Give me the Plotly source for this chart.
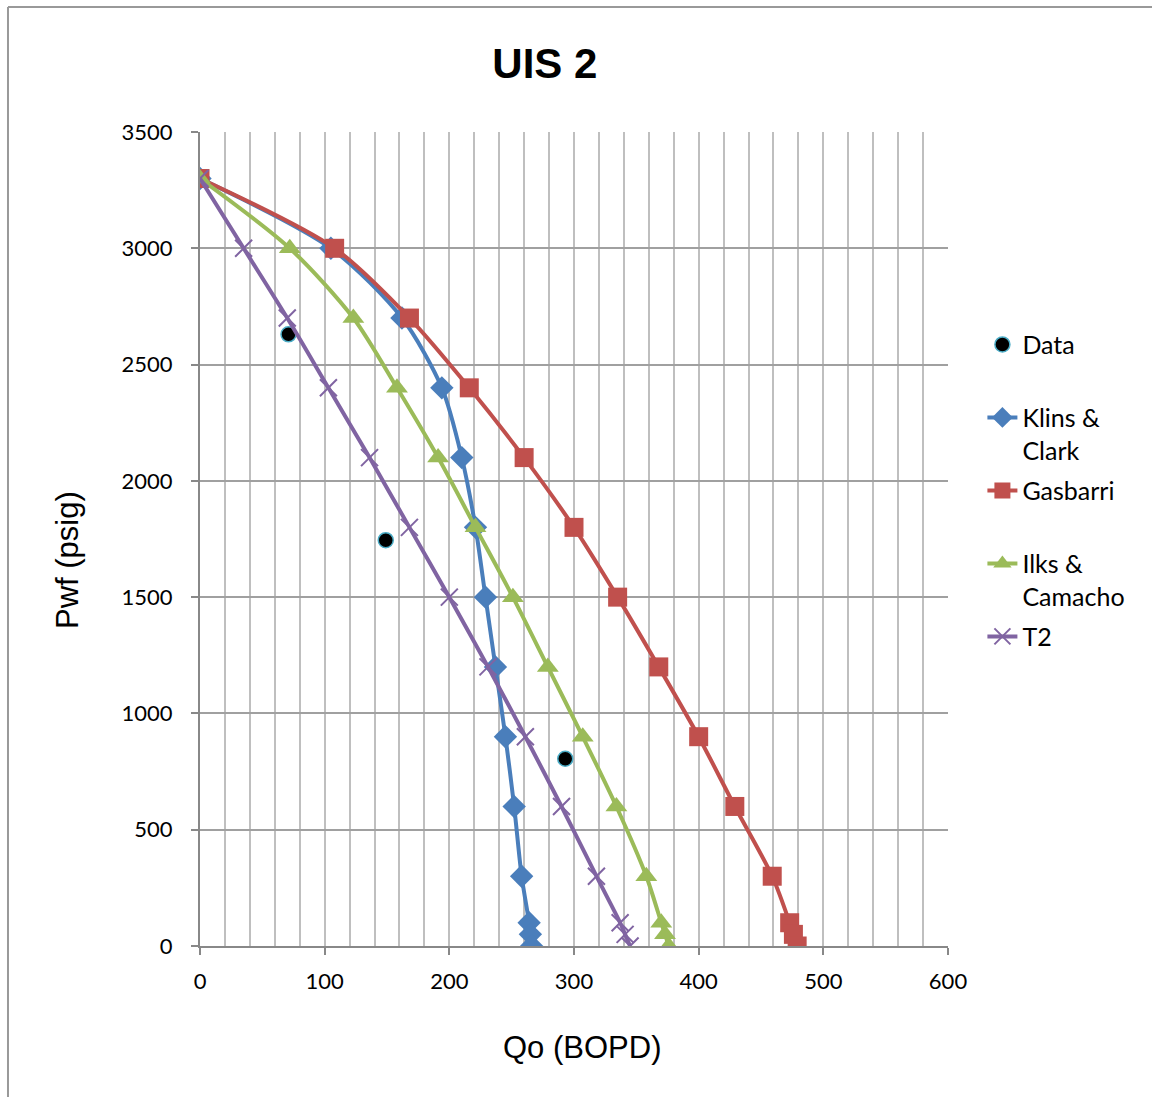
import plotly.graph_objects as go

# Flowing bottom-hole pressure (psig) for each IPR model point
pwf = [3300, 3000, 2700, 2400, 2100, 1800, 1500, 1200, 900, 600, 300, 100, 50, 0]

# Oil rate (BOPD) predicted by each IPR correlation
klins_clark = [0, 105, 162, 194, 210, 221, 229, 237, 245, 252, 258, 264, 265, 266]
gasbarri = [0, 108, 168, 216, 260, 300, 335, 368, 400, 429, 459, 473, 476, 479]
ilks_camacho = [0, 72, 123, 158, 191, 221, 251, 279, 307, 334, 358, 370, 373, 376]
t2 = [0, 35, 70, 103, 136, 168, 200, 231, 261, 290, 318, 337, 341, 345]

# Measured well tests
data_qo = [71, 149, 293]
data_pwf = [2630, 1745, 805]

x_ticks = [0, 100, 200, 300, 400, 500, 600]
y_ticks = [0, 500, 1000, 1500, 2000, 2500, 3000, 3500]

PAD = "<br>\u00a0"
LEG_FONT = dict(family="Lato, Carlito, sans-serif", size=25, color="black")

fig = go.Figure()

fig.add_trace(go.Scatter(
    x=data_qo, y=data_pwf, mode="markers", name="Data" + PAD,
    legendgroup="a",
    marker=dict(symbol="circle", size=15, color="black",
                line=dict(color="#4bacc6", width=1.5)),
))

series = [
    ("Klins &<br>Clark", klins_clark, "#4a7ebb", "diamond", 18, 0),
    ("Gasbarri" + PAD, gasbarri, "#c0504d", "square", 19, 0),
    ("Ilks &<br>Camacho", ilks_camacho, "#9bbb59", "triangle-up", 19, 0),
    ("T2" + PAD, t2, "#8064a2", "x-thin-open", 17, 2),
]
for i, (name, qo, color, sym, size, lw) in enumerate(series):
    fig.add_trace(go.Scatter(
        x=qo, y=pwf, mode="lines+markers", name=name,
        legendgroup="g%d" % i,
        line=dict(color=color, width=4, shape="spline", smoothing=0.8),
        marker=dict(symbol=sym, size=size, color=color,
                    line=dict(color=color, width=lw)),
    ))

# Outer chart frame (left and top edges)
frame = dict(color="#999999", width=2)
fig.add_shape(type="line", xref="paper", yref="paper",
              x0=-0.2567, x1=-0.2567, y0=-0.3, y1=1.1536, line=frame)
fig.add_shape(type="line", xref="paper", yref="paper",
              x0=-0.2567, x1=1.4, y0=1.1536, y1=1.1536, line=frame)

fig.update_layout(
    width=1152, height=1097,
    margin=dict(l=200, r=204, t=132, b=151),
    paper_bgcolor="white", plot_bgcolor="white",
    showlegend=True,
    title=dict(text="<b>UIS 2</b>", x=0.473, xref="container", xanchor="center",
               y=1 - 63 / 1097, yanchor="middle",
               font=dict(family="Liberation Sans, Arial", size=42, color="black")),
    legend=dict(x=1.046, xanchor="left", y=0.767, yanchor="top",
                font=LEG_FONT, valign="top", tracegroupgap=5,
                bgcolor="rgba(0,0,0,0)"),
    font=dict(family="Lato, Carlito, sans-serif", size=22, color="black"),
)

fig.update_xaxes(
    range=[0, 600], tickvals=x_ticks, showgrid=True,
    gridcolor="#bfbfbf", gridwidth=2,
    minor=dict(dtick=20, showgrid=True, gridcolor="#bfbfbf", gridwidth=2),
    showline=True, linecolor="#888888", linewidth=2,
    ticks="outside", ticklen=7, tickwidth=2, tickcolor="#888888",
    tickfont=dict(family="Lato, Carlito, sans-serif", size=22, color="black"),
    zeroline=False, ticklabelstandoff=8,
)
fig.update_yaxes(
    range=[0, 3500], tickvals=y_ticks, showgrid=True,
    gridcolor="#a0a0a0", gridwidth=2,
    showline=True, linecolor="#888888", linewidth=2,
    ticks="outside", ticklen=7, tickwidth=2, tickcolor="#888888",
    tickfont=dict(family="Lato, Carlito, sans-serif", size=22, color="black"),
    zeroline=False, ticklabelstandoff=14,
)

axis_title_font = dict(family="Liberation Sans, Arial", size=31, color="black")
fig.add_annotation(text="Qo (BOPD)", xref="paper", yref="paper",
                   x=(582 - 200) / 748, y=-(1047 - 946) / 814,
                   xanchor="center", yanchor="middle", showarrow=False,
                   font=axis_title_font)
fig.add_annotation(text="Pwf (psig)", xref="paper", yref="paper",
                   x=-(200 - 67) / 748, y=(946 - 560) / 814, textangle=-90,
                   xanchor="center", yanchor="middle", showarrow=False,
                   font=axis_title_font)

fig.write_html("out.html")
